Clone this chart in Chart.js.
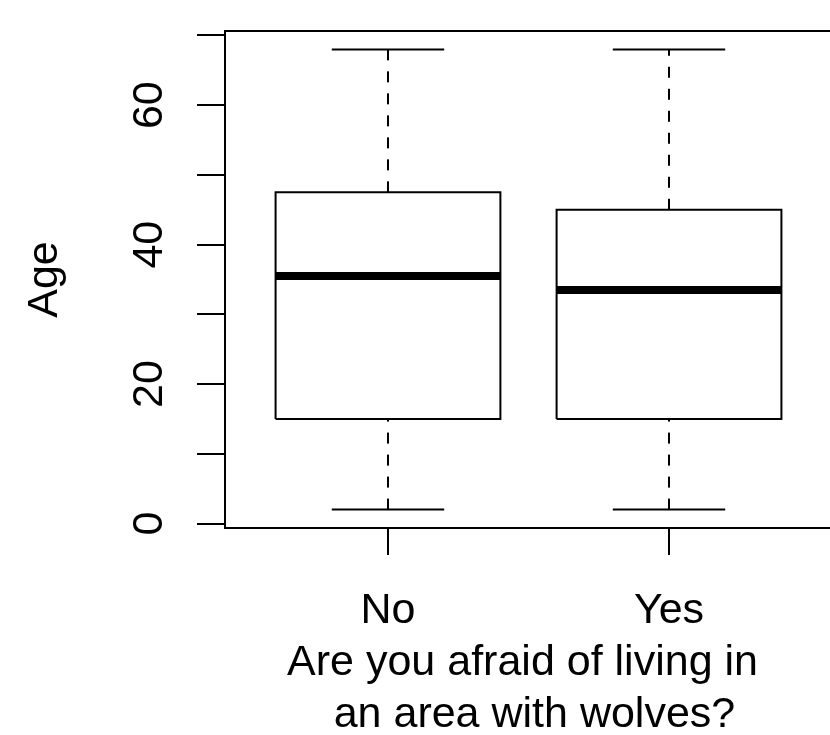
<!DOCTYPE html>
<html>
<head>
<meta charset="utf-8">
<script src="https://cdn.jsdelivr.net/npm/chart.js@4.4.1/dist/chart.umd.min.js"></script>
<style>
  html, body { margin: 0; padding: 0; background: #fff; overflow: hidden; }
  #wrap { width: 840px; height: 735px; }
</style>
</head>
<body>
<div id="wrap"><canvas id="boxChart" width="840" height="735"></canvas></div>
<script>
// boxplot data
const groups = ['No', 'Yes'];
const whiskerLow = [2, 2];
const lowerQuartile = [15, 15];
const medians = [35.5, 33.5];
const upperQuartile = [47.5, 45];
const whiskerHigh = [68, 68];

const yTicks = [0, 10, 20, 30, 40, 50, 60, 70];
const yLabels = [0, 20, 40, 60];
const yTitle = 'Age';
const xTitle = ['Are you afraid of living in ', ' an area with wolves?'];

const FONT = '43px "Liberation Sans", Arial, Helvetica, sans-serif';
const boxHalf = 0.4;   // box half width, in x units
const capHalf = 0.2;   // whisker cap half width

function seg(points, width, dash) {
    return {
        data: points,
        showLine: true,
        borderColor: '#000',
        backgroundColor: '#000',
        borderWidth: width,
        borderDash: dash || [],
        borderCapStyle: 'butt',
        borderJoinStyle: 'miter',
        pointRadius: 0,
        tension: 0,
        fill: false
    };
}

const datasets = [];
groups.forEach((g, i) => {
    const x = i + 1;
    // box
    datasets.push(seg([
        {x: x - boxHalf, y: lowerQuartile[i]},
        {x: x + boxHalf, y: lowerQuartile[i]},
        {x: x + boxHalf, y: upperQuartile[i]},
        {x: x - boxHalf, y: upperQuartile[i]},
        {x: x - boxHalf, y: lowerQuartile[i]}
    ], 2));
    // median
    datasets.push(seg([{x: x - boxHalf, y: medians[i]}, {x: x + boxHalf, y: medians[i]}], 8));
    // whiskers (dashed)
    datasets.push(seg([{x: x, y: whiskerLow[i]}, {x: x, y: lowerQuartile[i]}], 2, [11, 11]));
    datasets.push(seg([{x: x, y: upperQuartile[i]}, {x: x, y: whiskerHigh[i]}], 2, [11, 11]));
    // caps
    datasets.push(seg([{x: x - capHalf, y: whiskerLow[i]}, {x: x + capHalf, y: whiskerLow[i]}], 2));
    datasets.push(seg([{x: x - capHalf, y: whiskerHigh[i]}, {x: x + capHalf, y: whiskerHigh[i]}], 2));
});

// R style ranges: 4% extension
const yMin = -0.64, yMax = 70.64;
const xMin = 0.42, xMax = 2.58;

const textPlugin = {
    id: 'rText',
    afterDraw(chart) {
        const ctx = chart.ctx;
        const xs = chart.scales.x, ys = chart.scales.y;
        const area = chart.chartArea;
        ctx.save();
        ctx.fillStyle = '#000';
        ctx.font = FONT;
        ctx.textAlign = 'center';
        ctx.textBaseline = 'alphabetic';

        // y tick labels, rotated
        for (const v of yLabels) {
            ctx.save();
            ctx.translate(162, ys.getPixelForValue(v));
            ctx.rotate(-Math.PI / 2);
            ctx.fillText(String(v), 0, 0);
            ctx.restore();
        }
        // y title
        ctx.save();
        ctx.translate(57, (area.top + area.bottom) / 2);
        ctx.rotate(-Math.PI / 2);
        ctx.fillText(yTitle, 0, 0);
        ctx.restore();

        // group labels
        groups.forEach((g, i) => {
            ctx.fillText(g, xs.getPixelForValue(i + 1), 623);
        });
        // x title
        const cx = (area.left + area.right) / 2;
        ctx.fillText(xTitle[0], cx, 675);
        ctx.fillText(xTitle[1], cx, 727);
        ctx.restore();
    }
};

const ctx = document.getElementById('boxChart').getContext('2d');
const boxChart = new Chart(ctx, {
    type: 'scatter',
    data: { datasets: datasets },
    options: {
        responsive: false,
        animation: false,
        devicePixelRatio: 1,
        layout: { padding: { top: 31, left: 0, right: 8, bottom: 0 } },
        plugins: {
            legend: { display: false },
            tooltip: { enabled: false }
        },
        scales: {
            x: {
                type: 'linear',
                position: 'bottom',
                min: xMin,
                max: xMax,
                afterBuildTicks: (scale) => { scale.ticks = groups.map((g, i) => ({value: i + 1})); },
                afterFit: (scale) => { scale.height = 207; },
                ticks: { display: false },
                grid: { drawOnChartArea: false, drawTicks: true, tickLength: 27, color: '#000', lineWidth: 2 },
                border: { display: true, color: '#000', width: 2 }
            },
            xTop: {
                type: 'linear',
                position: 'top',
                min: xMin,
                max: xMax,
                afterFit: (scale) => { scale.height = 0; },
                ticks: { display: false },
                grid: { drawOnChartArea: false, drawTicks: false, tickLength: 0 },
                border: { display: true, color: '#000', width: 2 }
            },
            y: {
                type: 'linear',
                position: 'left',
                min: yMin,
                max: yMax,
                afterBuildTicks: (scale) => { scale.ticks = yTicks.map(v => ({value: v})); },
                afterFit: (scale) => { scale.width = 225; },
                ticks: { display: false },
                grid: { drawOnChartArea: false, drawTicks: true, tickLength: 28, color: '#000', lineWidth: 2 },
                border: { display: true, color: '#000', width: 2 }
            }
        }
    },
    plugins: [textPlugin]
});
</script>
</body>
</html>
